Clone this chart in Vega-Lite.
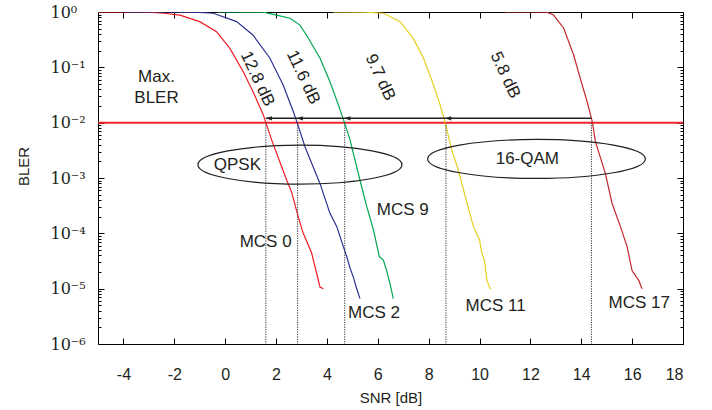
{
  "$schema": "https://vega.github.io/schema/vega-lite/v6.json",
  "width": 585,
  "height": 332,
  "autosize": {"type": "none"},
  "padding": {"left": 98, "top": 12, "right": 29, "bottom": 66},
  "background": "white",
  "config": {"view": {"stroke": null}, "font": "Liberation Sans"},
  "resolve": {"axis": {"x": "independent", "y": "independent"}},
  "datasets": {
    "curves": [
      {"mcs": "MCS 0", "snr": -5, "bler": 1}, {"mcs": "MCS 0", "snr": -4, "bler": 1}, {"mcs": "MCS 0", "snr": -3, "bler": 0.99},
      {"mcs": "MCS 0", "snr": -2.4, "bler": 0.95}, {"mcs": "MCS 0", "snr": -1.78, "bler": 0.88}, {"mcs": "MCS 0", "snr": -1.0, "bler": 0.67},
      {"mcs": "MCS 0", "snr": -0.34, "bler": 0.44}, {"mcs": "MCS 0", "snr": 0.185, "bler": 0.22}, {"mcs": "MCS 0", "snr": 0.71, "bler": 0.083},
      {"mcs": "MCS 0", "snr": 1.10, "bler": 0.036}, {"mcs": "MCS 0", "snr": 1.50, "bler": 0.0138}, {"mcs": "MCS 0", "snr": 1.60, "bler": 0.01},
      {"mcs": "MCS 0", "snr": 1.83, "bler": 0.00484}, {"mcs": "MCS 0", "snr": 2.42, "bler": 0.00091}, {"mcs": "MCS 0", "snr": 2.61, "bler": 0.00056},
      {"mcs": "MCS 0", "snr": 2.87, "bler": 0.0002}, {"mcs": "MCS 0", "snr": 3.07, "bler": 0.0001}, {"mcs": "MCS 0", "snr": 3.40, "bler": 0.000044},
      {"mcs": "MCS 0", "snr": 3.60, "bler": 0.0000186}, {"mcs": "MCS 0", "snr": 3.73, "bler": 0.0000107}, {"mcs": "MCS 0", "snr": 3.86, "bler": 0.00001},

      {"mcs": "MCS 2", "snr": -3.9, "bler": 1}, {"mcs": "MCS 2", "snr": -2.5, "bler": 1}, {"mcs": "MCS 2", "snr": -1.78, "bler": 0.995},
      {"mcs": "MCS 2", "snr": -1.0, "bler": 0.98}, {"mcs": "MCS 2", "snr": -0.47, "bler": 0.95}, {"mcs": "MCS 2", "snr": 0.45, "bler": 0.67},
      {"mcs": "MCS 2", "snr": 1.10, "bler": 0.38}, {"mcs": "MCS 2", "snr": 1.76, "bler": 0.146}, {"mcs": "MCS 2", "snr": 2.28, "bler": 0.048},
      {"mcs": "MCS 2", "snr": 2.68, "bler": 0.0157}, {"mcs": "MCS 2", "snr": 2.83, "bler": 0.01}, {"mcs": "MCS 2", "snr": 3.14, "bler": 0.00363},
      {"mcs": "MCS 2", "snr": 3.73, "bler": 0.00079}, {"mcs": "MCS 2", "snr": 4.12, "bler": 0.00023}, {"mcs": "MCS 2", "snr": 4.39, "bler": 0.000132},
      {"mcs": "MCS 2", "snr": 4.58, "bler": 0.000071}, {"mcs": "MCS 2", "snr": 4.78, "bler": 0.000038}, {"mcs": "MCS 2", "snr": 4.91, "bler": 0.0000234},
      {"mcs": "MCS 2", "snr": 5.04, "bler": 0.0000162}, {"mcs": "MCS 2", "snr": 5.15, "bler": 0.0000107}, {"mcs": "MCS 2", "snr": 5.30, "bler": 0.0000066},

      {"mcs": "MCS 9", "snr": -0.3, "bler": 1}, {"mcs": "MCS 9", "snr": 1.5, "bler": 0.995}, {"mcs": "MCS 9", "snr": 2.02, "bler": 0.88},
      {"mcs": "MCS 9", "snr": 2.55, "bler": 0.77}, {"mcs": "MCS 9", "snr": 2.94, "bler": 0.58}, {"mcs": "MCS 9", "snr": 3.20, "bler": 0.38},
      {"mcs": "MCS 9", "snr": 3.73, "bler": 0.146}, {"mcs": "MCS 9", "snr": 4.12, "bler": 0.055}, {"mcs": "MCS 9", "snr": 4.45, "bler": 0.021},
      {"mcs": "MCS 9", "snr": 4.69, "bler": 0.01}, {"mcs": "MCS 9", "snr": 4.91, "bler": 0.0049}, {"mcs": "MCS 9", "snr": 5.30, "bler": 0.00091},
      {"mcs": "MCS 9", "snr": 5.57, "bler": 0.0003}, {"mcs": "MCS 9", "snr": 5.83, "bler": 0.000115}, {"mcs": "MCS 9", "snr": 6.06, "bler": 0.000038},
      {"mcs": "MCS 9", "snr": 6.22, "bler": 0.000033}, {"mcs": "MCS 9", "snr": 6.35, "bler": 0.000021}, {"mcs": "MCS 9", "snr": 6.48, "bler": 0.0000123},
      {"mcs": "MCS 9", "snr": 6.61, "bler": 0.0000066},

      {"mcs": "MCS 11", "snr": 4.25, "bler": 1}, {"mcs": "MCS 11", "snr": 5.5, "bler": 0.995}, {"mcs": "MCS 11", "snr": 6.22, "bler": 0.95},
      {"mcs": "MCS 11", "snr": 6.88, "bler": 0.67}, {"mcs": "MCS 11", "snr": 7.40, "bler": 0.33}, {"mcs": "MCS 11", "snr": 7.80, "bler": 0.146},
      {"mcs": "MCS 11", "snr": 8.19, "bler": 0.048}, {"mcs": "MCS 11", "snr": 8.45, "bler": 0.021}, {"mcs": "MCS 11", "snr": 8.65, "bler": 0.01},
      {"mcs": "MCS 11", "snr": 8.91, "bler": 0.00316}, {"mcs": "MCS 11", "snr": 9.17, "bler": 0.00138}, {"mcs": "MCS 11", "snr": 9.44, "bler": 0.00046},
      {"mcs": "MCS 11", "snr": 9.76, "bler": 0.000132}, {"mcs": "MCS 11", "snr": 10.0, "bler": 0.000076}, {"mcs": "MCS 11", "snr": 10.09, "bler": 0.000044},
      {"mcs": "MCS 11", "snr": 10.19, "bler": 0.000033}, {"mcs": "MCS 11", "snr": 10.29, "bler": 0.0000141}, {"mcs": "MCS 11", "snr": 10.42, "bler": 0.00001},
      {"mcs": "MCS 11", "snr": 10.46, "bler": 0.00001},

      {"mcs": "MCS 17", "snr": 11.0, "bler": 1}, {"mcs": "MCS 17", "snr": 12.2, "bler": 1}, {"mcs": "MCS 17", "snr": 12.65, "bler": 0.99},
      {"mcs": "MCS 17", "snr": 12.91, "bler": 0.88}, {"mcs": "MCS 17", "snr": 13.31, "bler": 0.51}, {"mcs": "MCS 17", "snr": 13.70, "bler": 0.167},
      {"mcs": "MCS 17", "snr": 13.96, "bler": 0.063}, {"mcs": "MCS 17", "snr": 14.23, "bler": 0.024}, {"mcs": "MCS 17", "snr": 14.40, "bler": 0.012},
      {"mcs": "MCS 17", "snr": 14.44, "bler": 0.01}, {"mcs": "MCS 17", "snr": 14.56, "bler": 0.0045}, {"mcs": "MCS 17", "snr": 14.95, "bler": 0.0012},
      {"mcs": "MCS 17", "snr": 15.21, "bler": 0.00035}, {"mcs": "MCS 17", "snr": 15.54, "bler": 0.000132}, {"mcs": "MCS 17", "snr": 15.80, "bler": 0.000058},
      {"mcs": "MCS 17", "snr": 16.00, "bler": 0.000021}, {"mcs": "MCS 17", "snr": 16.26, "bler": 0.0000141}, {"mcs": "MCS 17", "snr": 16.39, "bler": 0.00001}
    ],
    "maxbler": [{"snr_from": -5, "snr_to": 18, "bler": 0.01}],
    "crossings": [
      {"snr": 1.6, "bler_top": 0.01, "bler_bottom": 0.000001},
      {"snr": 2.85, "bler_top": 0.01, "bler_bottom": 0.000001},
      {"snr": 4.7, "bler_top": 0.01, "bler_bottom": 0.000001},
      {"snr": 8.68, "bler_top": 0.01, "bler_bottom": 0.000001},
      {"snr": 14.4, "bler_top": 0.01, "bler_bottom": 0.000001}
    ],
    "arrow": [{"snr_from": 1.6, "snr_to": 14.4, "bler": 0.012}],
    "tips": [
      {"snr": 1.6, "bler": 0.012}, {"snr": 2.82, "bler": 0.012},
      {"snr": 4.69, "bler": 0.012}, {"snr": 8.65, "bler": 0.012}
    ],
    "qpsk": [{"snr": 2.94, "bler": 0.00174}],
    "qam": [{"snr": 12.24, "bler": 0.00221}],
    "labels": [
      {"snr": -2.7, "bler": 0.067, "text": "Max."},
      {"snr": -2.7, "bler": 0.028, "text": "BLER"},
      {"snr": 0.48, "bler": 0.0017, "text": "QPSK"},
      {"snr": 11.88, "bler": 0.0022, "text": "16-QAM"},
      {"snr": 1.59, "bler": 0.0000708, "text": "MCS 0"},
      {"snr": 5.85, "bler": 0.00000363, "text": "MCS 2"},
      {"snr": 6.98, "bler": 0.000263, "text": "MCS 9"},
      {"snr": 10.63, "bler": 0.0000049, "text": "MCS 11"},
      {"snr": 16.28, "bler": 0.0000054, "text": "MCS 17"}
    ],
    "gaps": [
      {"snr": 1.27, "bler": 0.0616, "text": "12.8 dB"},
      {"snr": 3.07, "bler": 0.066, "text": "11.6 dB"},
      {"snr": 6.09, "bler": 0.066, "text": "9.7 dB"},
      {"snr": 11.01, "bler": 0.0724, "text": "5.8 dB"}
    ]
  },
  "layer": [
    {
      "data": {"name": "maxbler"},
      "mark": {"type": "rule", "color": "#f2242c", "strokeWidth": 2},
      "encoding": {
        "x": {"field": "snr_from", "type": "quantitative",
          "scale": {"domain": [-5, 18], "nice": false, "zero": false},
          "axis": {"orient": "top", "values": [-4, -2, 0, 2, 4, 6, 8, 10, 12, 14, 16], "labels": false, "tickSize": -6, "tickColor": "black", "domainColor": "black", "grid": false, "title": null}},
        "x2": {"field": "snr_to"},
        "y": {"field": "bler", "type": "quantitative",
          "scale": {"type": "log", "domain": [0.000001, 1], "nice": false},
          "axis": {"orient": "right", "values": [0.000001, 0.00001, 0.0001, 0.001, 0.01, 0.1, 1], "labels": false, "tickSize": -6, "tickColor": "black", "domainColor": "black", "grid": false, "title": null}}
      }
    },
    {
      "data": {"name": "curves"},
      "mark": {"type": "line", "strokeWidth": 1.2, "clip": true},
      "encoding": {
        "x": {"field": "snr", "type": "quantitative",
          "axis": {"orient": "bottom", "values": [-4, -2, 0, 2, 4, 6, 8, 10, 12, 14, 16, 18], "tickSize": -6, "labelPadding": 28,
            "labelExpr": "'' + datum.value",
            "labelFont": "Liberation Sans", "labelFontSize": 16, "labelColor": "#231f20", "tickColor": "black", "domainColor": "black", "grid": false,
            "title": "SNR [dB]", "titleFont": "Liberation Sans", "titleFontSize": 15, "titleFontWeight": "normal", "titleColor": "#231f20", "titlePadding": 8}},
        "y": {"field": "bler", "type": "quantitative",
          "axis": {"orient": "left", "values": [0.000001, 0.00001, 0.0001, 0.001, 0.01, 0.1, 1], "tickSize": -6, "labelPadding": 54, "labelAlign": "left",
            "labelExpr": "'10' + ['⁰','⁻¹','⁻²','⁻³','⁻⁴','⁻⁵','⁻⁶'][round(-log(datum.value)/LN10)]",
            "labelFont": "DejaVu Serif", "labelFontSize": 16, "labelColor": "#231f20", "tickColor": "black", "domainColor": "black", "grid": false,
            "title": "BLER", "titleFont": "Liberation Sans", "titleFontSize": 15, "titleFontWeight": "normal", "titleColor": "#231f20",
            "titleX": -75, "titleY": 154, "titleAngle": 270, "titleAlign": "center", "titleBaseline": "middle"}},
        "color": {"field": "mcs", "type": "nominal",
          "scale": {"domain": ["MCS 0", "MCS 2", "MCS 9", "MCS 11", "MCS 17"], "range": ["#ed1c24", "#2e3192", "#00a651", "#e3d01f", "#c1272d"]},
          "legend": null}
      }
    },
    {
      "data": {"name": "crossings"},
      "mark": {"type": "rule", "color": "#333333", "strokeWidth": 1, "strokeDash": [1.2, 1.2]},
      "encoding": {
        "x": {"field": "snr", "type": "quantitative", "axis": null},
        "y": {"field": "bler_top", "type": "quantitative",
          "axis": {"orient": "left", "values": [0.000002, 0.000003, 0.000004, 0.000005, 0.000006, 0.000007, 0.000008, 0.000009, 0.00002, 0.00003, 0.00004, 0.00005, 0.00006, 0.00007, 0.00008, 0.00009, 0.0002, 0.0003, 0.0004, 0.0005, 0.0006, 0.0007, 0.0008, 0.0009, 0.002, 0.003, 0.004, 0.005, 0.006, 0.007, 0.008, 0.009, 0.02, 0.03, 0.04, 0.05, 0.06, 0.07, 0.08, 0.09, 0.2, 0.3, 0.4, 0.5, 0.6, 0.7, 0.8, 0.9],
            "labels": false, "domain": false, "tickSize": -3, "tickColor": "black", "grid": false, "title": null}},
        "y2": {"field": "bler_bottom"}
      }
    },
    {
      "data": {"name": "arrow"},
      "mark": {"type": "rule", "color": "#231f20", "strokeWidth": 1.5},
      "encoding": {
        "x": {"field": "snr_from", "type": "quantitative", "axis": null},
        "x2": {"field": "snr_to"},
        "y": {"field": "bler", "type": "quantitative",
          "axis": {"orient": "right", "values": [0.000002, 0.000003, 0.000004, 0.000005, 0.000006, 0.000007, 0.000008, 0.000009, 0.00002, 0.00003, 0.00004, 0.00005, 0.00006, 0.00007, 0.00008, 0.00009, 0.0002, 0.0003, 0.0004, 0.0005, 0.0006, 0.0007, 0.0008, 0.0009, 0.002, 0.003, 0.004, 0.005, 0.006, 0.007, 0.008, 0.009, 0.02, 0.03, 0.04, 0.05, 0.06, 0.07, 0.08, 0.09, 0.2, 0.3, 0.4, 0.5, 0.6, 0.7, 0.8, 0.9],
            "labels": false, "domain": false, "tickSize": -3, "tickColor": "black", "grid": false, "title": null}}
      }
    },
    {
      "data": {"name": "tips"},
      "mark": {"type": "point", "shape": "M0,0L2,-0.7L2,0.7Z", "size": 36, "filled": true, "color": "#231f20", "opacity": 1},
      "encoding": {
        "x": {"field": "snr", "type": "quantitative", "axis": null},
        "y": {"field": "bler", "type": "quantitative", "axis": null}
      }
    },
    {
      "data": {"name": "qpsk"},
      "mark": {"type": "point", "shape": "M-1,0A1,0.191,0,1,0,1,0A1,0.191,0,1,0,-1,0Z", "size": 41616, "filled": false, "stroke": "#231f20", "strokeWidth": 1.2, "opacity": 1},
      "encoding": {
        "x": {"field": "snr", "type": "quantitative", "axis": null},
        "y": {"field": "bler", "type": "quantitative", "axis": null}
      }
    },
    {
      "data": {"name": "qam"},
      "mark": {"type": "point", "shape": "M-1,0A1,0.179,0,1,0,1,0A1,0.179,0,1,0,-1,0Z", "size": 47393, "filled": false, "stroke": "#231f20", "strokeWidth": 1.2, "opacity": 1},
      "encoding": {
        "x": {"field": "snr", "type": "quantitative", "axis": null},
        "y": {"field": "bler", "type": "quantitative", "axis": null}
      }
    },
    {
      "data": {"name": "labels"},
      "mark": {"type": "text", "font": "Liberation Sans", "fontSize": 17, "color": "#231f20", "align": "center", "baseline": "middle"},
      "encoding": {
        "x": {"field": "snr", "type": "quantitative", "axis": null},
        "y": {"field": "bler", "type": "quantitative", "axis": null},
        "text": {"field": "text"}
      }
    },
    {
      "data": {"name": "gaps"},
      "mark": {"type": "text", "font": "Liberation Sans", "fontSize": 17, "color": "#231f20", "align": "center", "baseline": "middle", "angle": 65},
      "encoding": {
        "x": {"field": "snr", "type": "quantitative", "axis": null},
        "y": {"field": "bler", "type": "quantitative", "axis": null},
        "text": {"field": "text"}
      }
    }
  ]
}
